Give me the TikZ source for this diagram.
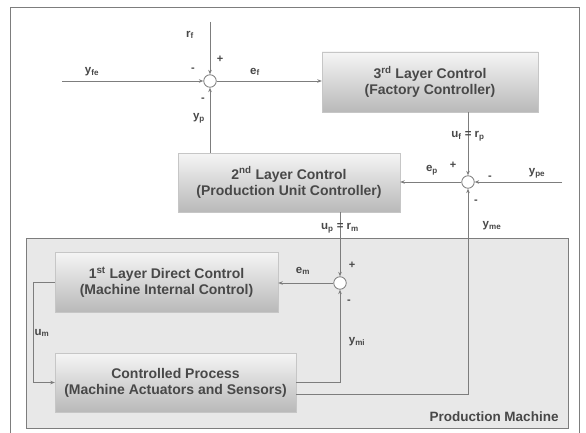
\documentclass[tikz,border=0pt]{standalone}
\usepackage{fontspec}
\setmainfont{Liberation Sans}
\usetikzlibrary{arrows.meta,shadows}
\definecolor{linec}{RGB}{125,125,125}
\definecolor{textc}{RGB}{72,72,72}
\definecolor{pmfill}{RGB}{232,232,232}
\begin{document}
\begin{tikzpicture}[x=1pt,y=-1pt,
  line/.style={draw=linec, line width=0.8pt},
  arr/.style={line, -{Stealth[length=4.5pt,width=3.5pt]}},
  blk/.style={draw=gray!45, top color=gray!8, bottom color=gray!55, text=textc,
    font=\fontsize{14}{16}\selectfont\bfseries, align=center, inner sep=0pt,
    drop shadow={opacity=0.25, shadow xshift=1.2pt, shadow yshift=-1.2pt}},
  sumj/.style={circle, draw=linec, line width=0.8pt, fill=white, minimum size=12.5pt, inner sep=0pt},
  lbl/.style={text=textc, font=\fontsize{11.5}{13}\selectfont\bfseries, inner sep=0pt},
  sgn/.style={text=textc, font=\fontsize{11}{13}\selectfont\bfseries, inner sep=0pt}]
\useasboundingbox (0,0) rectangle (586,433);
\fill[white] (0,0) rectangle (586,433);
% outer frame
\draw[linec, line width=0.8pt] (10,433) -- (10,7) -- (579,7) -- (579,433);
% production machine area
\node[draw=linec, line width=0.8pt, fill=pmfill, minimum width=542pt, minimum height=190pt, inner sep=0pt] (pm) at (297,333) {};
\node[lbl, font=\fontsize{13.5}{14.5}\selectfont\bfseries] (pmlabel) at (494,417) {Production Machine};
% blocks
\node[blk, minimum width=216pt, minimum height=60pt] (L3) at (430,82) {3\textsuperscript{rd} Layer Control\\(Factory Controller)};
\node[blk, minimum width=222pt, minimum height=59pt] (L2) at (289,182.5) {2\textsuperscript{nd} Layer Control\\(Production Unit Controller)};
\node[blk, minimum width=223pt, minimum height=60pt] (L1) at (166.5,282) {1\textsuperscript{st} Layer Direct Control\\(Machine Internal Control)};
\node[blk, minimum width=241pt, minimum height=59pt] (CP) at (175.5,382.5) {Controlled Process\\(Machine Actuators and Sensors)};
% summing junctions
\node[sumj] (S1) at (210,81) {};
\node[sumj] (S2) at (468,182) {};
\node[sumj] (S3) at (340,283) {};
% free ends
\coordinate (yfein) at (62,81);
\coordinate (rfin) at (210,22);
\coordinate (ypein) at (562,182);
\coordinate (cpout) at (296,394);
\coordinate (umcorner) at (33,282);
% connectors
\draw[arr] (yfein) -- (S1);
\draw[arr] (rfin) -- (S1);
\draw[arr] (L2.north -| S1) -- (S1);
\draw[arr] (S1) -- (L3.west |- S1);
\draw[arr] (L3.south -| S2) -- (S2);
\draw[arr] (ypein) -- (S2);
\draw[arr] (S2) -- (L2.east |- S2);
\draw[arr] (cpout) -| (S2);
\draw[arr] (L2.south -| S3) -- (S3);
\draw[arr] (S3) -- (L1.east |- S3);
\draw[arr] (CP.east) -| (S3);
\draw[arr] (L1.west) -- (umcorner) |- (CP.west);
% labels
\node[lbl] (lyfe) at (92,72) {y\textsubscript{fe}};
\node[sgn] (m1) at (193,70) {-};
\node[lbl] (lrf) at (190,35) {r\textsubscript{f}};
\node[sgn] (p1) at (220,59) {+};
\node[lbl] (lef) at (255,72) {e\textsubscript{f}};
\node[sgn] (m2) at (203,100) {-};
\node[lbl] (lyp) at (199,118) {y\textsubscript{p}};
\node[lbl] (lufrp) at (468,136) {u\textsubscript{f} = r\textsubscript{p}};
\node[sgn] (p2) at (453,165) {+};
\node[lbl] (lep) at (432,170) {e\textsubscript{p}};
\node[sgn] (m3) at (490,178) {-};
\node[lbl] (lype) at (537,173) {y\textsubscript{pe}};
\node[sgn] (m4) at (476,202) {-};
\node[lbl] (lyme) at (492,226) {y\textsubscript{me}};
\node[lbl] (luprm) at (340,228) {u\textsubscript{p} = r\textsubscript{m}};
\node[sgn] (p3) at (352,265) {+};
\node[lbl] (lem) at (303,271) {e\textsubscript{m}};
\node[sgn] (m5) at (349,302) {-};
\node[lbl] (lymi) at (357,342) {y\textsubscript{mi}};
\node[lbl] (lum) at (42,333) {u\textsubscript{m}};
\end{tikzpicture}
\end{document}
